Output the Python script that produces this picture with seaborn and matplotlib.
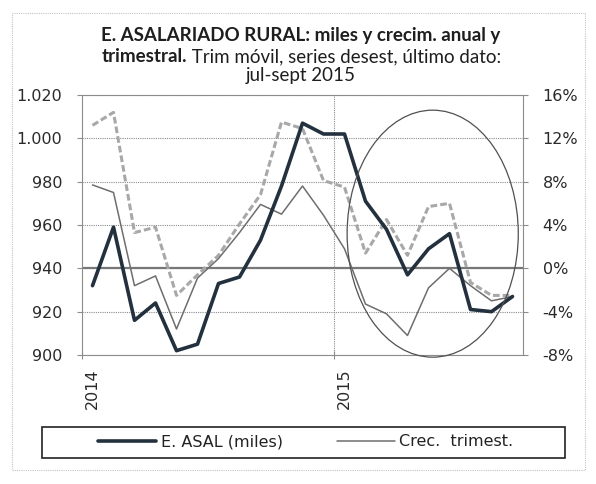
import matplotlib
matplotlib.use("Agg")
import matplotlib.pyplot as plt
import seaborn as sns
import pandas as pd
from matplotlib.patches import Ellipse, Rectangle

# ---- data ----
meses = ["ene-14", "feb-14", "mar-14", "abr-14", "may-14", "jun-14", "jul-14",
         "ago-14", "sep-14", "oct-14", "nov-14", "dic-14", "ene-15", "feb-15",
         "mar-15", "abr-15", "may-15", "jun-15", "jul-15", "ago-15", "sep-15"]
x_tick_labels = ["2014", "2015"]
asal_miles = [932, 959, 916, 924, 902, 905, 933, 936, 953, 978, 1007, 1002,
              1002, 971, 958, 937, 949, 956, 921, 920, 927]
crec_trimest = [7.7, 7.0, -1.6, -0.7, -5.6, -0.9, 0.9, 3.3, 5.9, 5.0, 7.6, 4.9,
                1.8, -3.3, -4.2, -6.2, -1.8, 0.0, -1.6, -3.0, -2.6]
crec_anual = [13.2, 14.4, 3.3, 3.8, -2.5, -0.6, 1.2, 4.1, 6.8, 13.5, 12.9, 8.1,
              7.5, 1.4, 4.5, 1.2, 5.7, 6.0, -1.3, -2.5, -2.5]
left_ticks = [900, 920, 940, 960, 980, 1000, 1020]
right_ticks = [-8, -4, 0, 4, 8, 12, 16]

df = pd.DataFrame({"mes": meses, "i": range(len(meses)),
                   "asal": asal_miles, "trim": crec_trimest, "anual": crec_anual})

W, H = 596, 484
sns.set_theme(style="white")
plt.rcParams["font.family"] = ["DejaVu Sans"]
plt.rcParams["axes.unicode_minus"] = False

fig = plt.figure(figsize=(W / 100, H / 100), dpi=100)
ax = fig.add_axes([82 / W, 1 - 355 / H, 441 / W, 260 / H])
ax2 = ax.twinx()
ax.set_zorder(2)
ax2.set_zorder(1)
ax.patch.set_visible(False)

grid_c = "#8c8c8c"
dot = (0, (1, 1))

# percentage series on the right axis
ax2.set_ylim(-8, 16)
ax2.set_yticks(right_ticks)
ax2.yaxis.grid(True, color=grid_c, linestyle=dot, linewidth=0.8)
ax2.set_axisbelow(True)
ax2.axvline(11.5, color=grid_c, linestyle=dot, linewidth=0.8, zorder=0.5)
ax2.axhline(0, color="#777777", linewidth=1.6, zorder=0.6)
sns.lineplot(data=df, x="i", y="anual", ax=ax2, color="#a8a8a8", linewidth=2.2,
             legend=False)
ax2.lines[-1].set_dashes([2.2, 1.0])
sns.lineplot(data=df, x="i", y="trim", ax=ax2, color="#6e6e6e", linewidth=1.1,
             legend=False)
thin_line = ax2.lines[-1]

# level series on the left axis
sns.lineplot(data=df, x="i", y="asal", ax=ax, color="#23303e", linewidth=2.6,
             legend=False)
thick_line = ax.lines[-1]
ax.set_ylim(900, 1020)
ax.set_xlim(-0.5, len(meses) - 0.5)
ax.set_yticks(left_ticks)
ax.set_yticklabels([f"{v:,}".replace(",", ".") for v in left_ticks])
ax2.set_yticklabels([f"{v}%" for v in right_ticks])

ax.add_patch(Ellipse((16.2, 956), 8.15, 114, fill=False, edgecolor="#505050",
                     linewidth=0.9, clip_on=False, zorder=3))

for a in (ax, ax2):
    a.set_xlabel("")
    a.set_ylabel("")
for s in ax2.spines.values():
    s.set_visible(False)
for s in ax.spines.values():
    s.set_visible(True)
    s.set_color(grid_c)
    s.set_linestyle(dot)
    s.set_linewidth(0.8)

ax.set_xticks([0, 12])
ax.set_xticklabels(x_tick_labels, rotation=90)
ax.set_xticks([-0.5, 11.5], minor=True)
ax.tick_params(axis="x", which="major", length=0, pad=9.5, labelsize=11.5,
               labelcolor="#2a2a2a")
ax.tick_params(axis="x", which="minor", bottom=True, direction="inout", length=6,
               width=0.8, color=grid_c)
ax.tick_params(axis="y", left=True, direction="out", length=3.6, width=0.8,
               color=grid_c, pad=10.5, labelsize=11.5, labelcolor="#2a2a2a")
ax2.tick_params(axis="y", right=True, direction="out", length=3.6, width=0.8,
                color=grid_c, pad=10.5, labelsize=11.5, labelcolor="#2a2a2a")

# legend (frame drawn as the boxed strip of the reference)
fig.legend([thick_line, thin_line], ["E. ASAL (miles)", "Crec.  trimest."],
           loc="center", bbox_to_anchor=(306 / W, 1 - 442 / H), ncol=2,
           frameon=False, handlelength=3.6, columnspacing=3.4,
           handletextpad=0.3, fontsize=11.5, labelcolor="#222222")
fig.patches.append(Rectangle((42 / W, 1 - 458 / H), 523 / W, 31 / H,
                             transform=fig.transFigure, fill=False,
                             edgecolor="#222222", linewidth=1.2))
fig.patches.append(Rectangle((12 / W, 1 - 470 / H), 573 / W, 457 / H,
                             transform=fig.transFigure, fill=False,
                             edgecolor="#c4c4c4", linestyle=dot, linewidth=0.8))

# title
tkw = dict(family="Lato", fontsize=13.5, color="#1e1e1e", va="baseline")
cx = 301
fig.text(cx / W, 1 - 41.5 / H, "E. ASALARIADO RURAL: miles y crecim. anual y",
         ha="center", fontweight="bold", **tkw)
fig.canvas.draw()
r = fig.canvas.get_renderer()
tb = fig.text(0, 1 - 62 / H, "trimestral.", ha="left", fontweight="bold", **tkw)
tn = fig.text(0, 1 - 62 / H, " Trim móvil, series desest, último dato:",
              ha="left", **tkw)
wb = tb.get_window_extent(r).width
wn = tn.get_window_extent(r).width
x0 = cx - (wb + wn) / 2
tb.set_x(x0 / W)
tn.set_x((x0 + wb) / W)
fig.text(cx / W, 1 - 81.5 / H, "jul-sept 2015", ha="center", **tkw)

fig.savefig("out.png", dpi=100)
